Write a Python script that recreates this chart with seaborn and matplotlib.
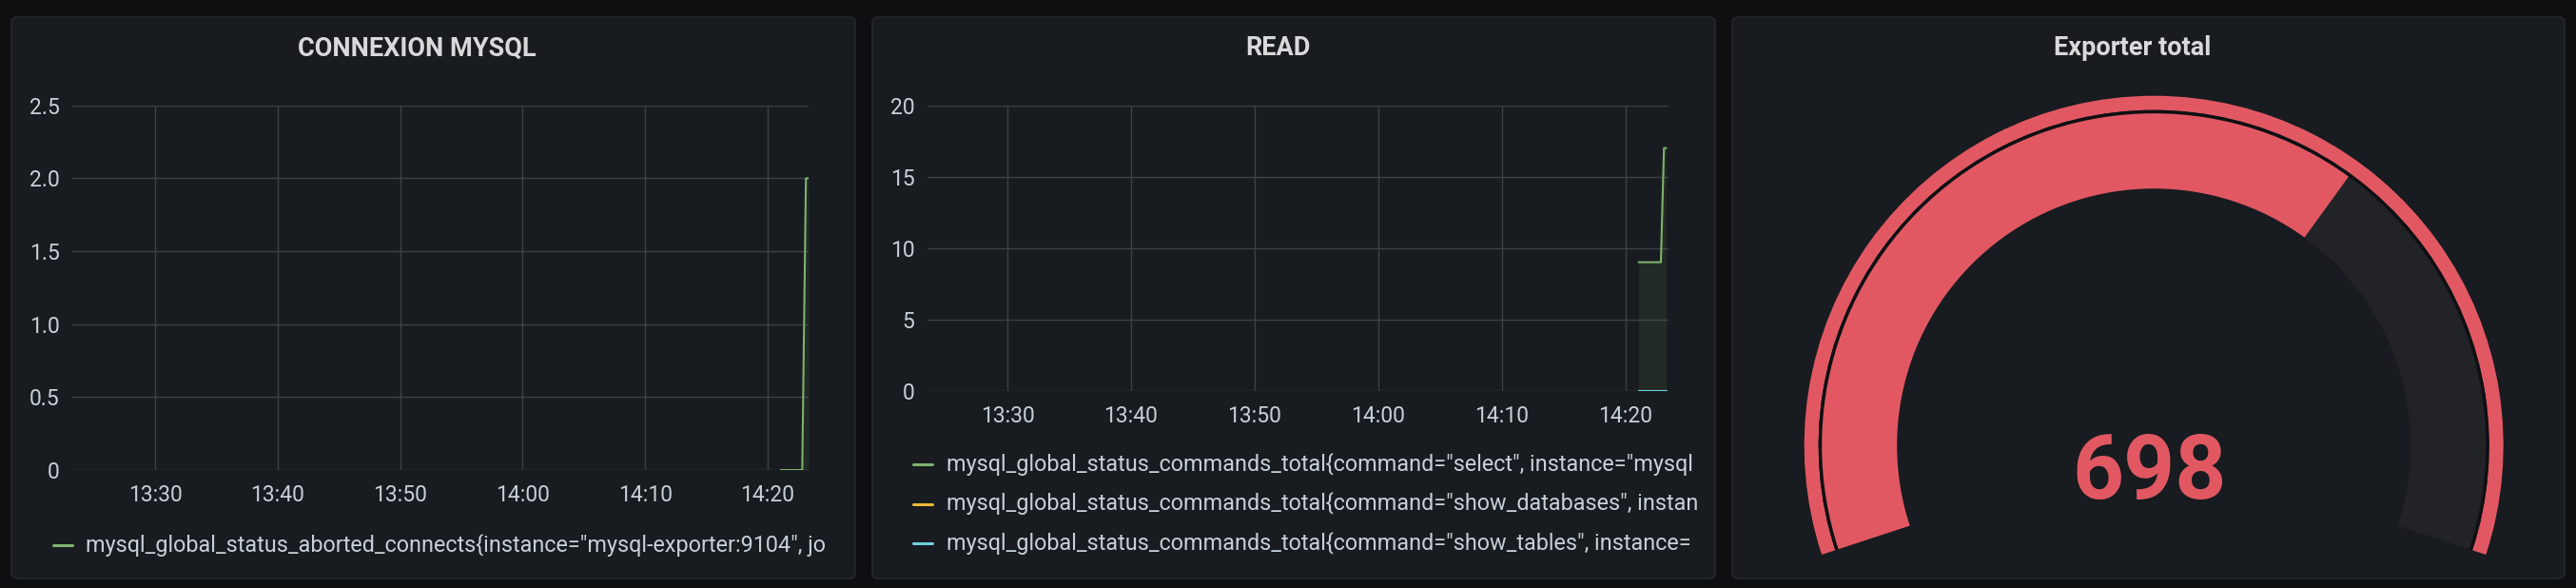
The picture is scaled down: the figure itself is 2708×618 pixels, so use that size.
import matplotlib
matplotlib.use("Agg")
import matplotlib.pyplot as plt
import matplotlib.dates as mdates
from matplotlib.patches import FancyBboxPatch, Wedge
from matplotlib.lines import Line2D
from matplotlib.transforms import IdentityTransform, Bbox
import seaborn as sns
import pandas as pd

# ---- data ----
day = "2023-05-10 "

p1_title = "CONNEXION MYSQL"
p1_time = ["14:21:04", "14:22:49", "14:23:07", "14:23:20"]
p1_aborted = [0, 0, 2, 2]
p1_labels = ['mysql_global_status_aborted_connects{instance="mysql-exporter:9104", jo']
p1_yticks = [0, 0.5, 1.0, 1.5, 2.0, 2.5]
p1_yticklabels = ["0", "0.5", "1.0", "1.5", "2.0", "2.5"]

p2_title = "READ"
p2_time = ["14:21:04", "14:22:52", "14:23:07", "14:23:18"]
p2_select = [9, 9, 17, 17]
p2_show_databases = [0, 0, 0, 0]
p2_show_tables = [0, 0, 0, 0]
p2_labels = [
    'mysql_global_status_commands_total{command="select", instance="mysql',
    'mysql_global_status_commands_total{command="show_databases", instan',
    'mysql_global_status_commands_total{command="show_tables", instance=',
]
p2_yticks = [0, 5, 10, 15, 20]

p3_title = "Exporter total"
gauge_value = 698
gauge_min = 0
gauge_max = 1048

series_colors = ["#7eb26d", "#eab839", "#6ed0e0"]
red = "#e15863"

# ---- styling ----
sns.set_theme(style="dark", rc={"axes.facecolor": "#181b1f"})
plt.rcParams["font.family"] = ["Roboto", "DejaVu Sans"]

W, H = 2708, 618
bg = "#0e0f11"
panel_bg = "#181b1f"
grid_c = "#3d4045"
text_c = "#c7d0d9"
title_c = "#d8d9da"

fig = plt.figure(figsize=(W / 100, H / 100), dpi=100)
fig.patch.set_facecolor(bg)


def axes_px(x0, y0, x1, y1):
    return fig.add_axes([x0 / W, 1 - y1 / H, (x1 - x0) / W, (y1 - y0) / H])


panels = [(12, 18, 899, 608), (917, 18, 1803, 608), (1821, 18, 2696, 608)]
for x0, y0, x1, y1 in panels:
    fig.add_artist(FancyBboxPatch((x0, H - y1), x1 - x0, y1 - y0,
                                  boxstyle="round,pad=0,rounding_size=6",
                                  transform=IdentityTransform(), zorder=-5,
                                  facecolor=panel_bg, edgecolor="#24272c", lw=1.2))

titles = [p1_title, p2_title, p3_title]
for (x0, y0, x1, y1), t in zip(panels, titles):
    fig.text(((x0 + x1) / 2 - 17) / W, 1 - 58.5 / H, t, ha="center", va="baseline",
             fontsize=19.5, fontweight="semibold", color=title_c)


def style_ax(ax, t_start, t_end, yticks, yticklabels=None):
    ax.set_facecolor("none")
    for s in ax.spines.values():
        s.set_visible(False)
    ax.set_xlim(pd.Timestamp(day + t_start), pd.Timestamp(day + t_end))
    ax.set_ylim(yticks[0], yticks[-1])
    ax.set_yticks(yticks)
    if yticklabels is not None:
        ax.set_yticklabels(yticklabels)
    ax.xaxis.set_major_locator(mdates.MinuteLocator(byminute=range(0, 60, 10)))
    ax.xaxis.set_major_formatter(mdates.DateFormatter("%H:%M"))
    ax.grid(True, color=grid_c, lw=1.0)
    ax.tick_params(axis="both", length=0, labelsize=16.5, labelcolor=text_c)
    ax.tick_params(axis="y", pad=9.5)
    ax.tick_params(axis="x", pad=11)
    ax.set_xlabel("")
    ax.set_ylabel("")


def legend_rows(x_line, x_text, ys, labels, colors, clip_right):
    for y, lab, c in zip(ys, labels, colors):
        fig.add_artist(Line2D([x_line / W, (x_line + 20) / W], [1 - y / H, 1 - y / H],
                              color=c, lw=2.2, transform=fig.transFigure))
        t = fig.text(x_text / W, 1 - y / H, lab, ha="left", va="center",
                     fontsize=16.8, color=text_c)
        t.set_clip_box(Bbox([[0, 0], [clip_right, H]]))
        t.set_clip_on(True)


# ---- panel 1 ----
df1 = pd.DataFrame({"time": pd.to_datetime([day + t for t in p1_time]),
                    "value": p1_aborted})
ax1 = axes_px(76, 110.7, 850, 494)
ax1.fill_between(df1["time"], df1["value"], color=series_colors[0], alpha=0.1, lw=0)
sns.lineplot(data=df1, x="time", y="value", color=series_colors[0], lw=1.5,
             estimator=None, ax=ax1)
style_ax(ax1, "13:23:15", "14:23:20", p1_yticks, p1_yticklabels)
legend_rows(56, 90, [573], p1_labels, series_colors[:1], 884)

# ---- panel 2 ----
names = ["select", "show_databases", "show_tables"]
frames = []
for name, vals in zip(names, [p2_select, p2_show_databases, p2_show_tables]):
    frames.append(pd.DataFrame({"time": pd.to_datetime([day + t for t in p2_time]),
                                "value": vals, "series": name}))
df2 = pd.concat(frames, ignore_index=True)
ax2 = axes_px(974.6, 110.7, 1754, 410.5)
for name, c in zip(names, series_colors):
    sub = df2[df2["series"] == name]
    ax2.fill_between(sub["time"], sub["value"], color=c, alpha=0.1, lw=0)
sns.lineplot(data=df2, x="time", y="value", hue="series", palette=series_colors,
             lw=1.5, estimator=None, legend=False, ax=ax2)
style_ax(ax2, "13:23:30", "14:23:29", p2_yticks)
legend_rows(960, 995, [488, 529.5, 571], p2_labels, series_colors, 1787)

# ---- panel 3: gauge ----
cx, cy = 2264.2, 468.2
ax3 = axes_px(1821, 18, 2696, 608)
ax3.set_xlim(1821 - cx, 2696 - cx)
ax3.set_ylim(-(608 - cy), cy - 18)
ax3.axis("off")

a_start, span = 198.2, 216.4


def to_angle(v):
    return a_start - (v - gauge_min) / (gauge_max - gauge_min) * span


a_end = to_angle(gauge_max)
a_val = to_angle(gauge_value)
ax3.add_patch(Wedge((0, 0), 367.5, a_end, a_start, width=15, color=red, lw=0))
ax3.add_patch(Wedge((0, 0), 352.5, a_end, a_start, width=3.8, color="#0f1013", lw=0))
ax3.add_patch(Wedge((0, 0), 349, a_end, a_val, width=79, color="#222326", lw=0))
ax3.add_patch(Wedge((0, 0), 349, a_val, a_start, width=79, color=red, lw=0))
ax3.text(2259.8 - cx, -(524 - cy), str(gauge_value), ha="center", va="baseline",
         fontsize=68, fontweight="bold", color=red)

fig.savefig("out.png", dpi=100, facecolor=bg)
